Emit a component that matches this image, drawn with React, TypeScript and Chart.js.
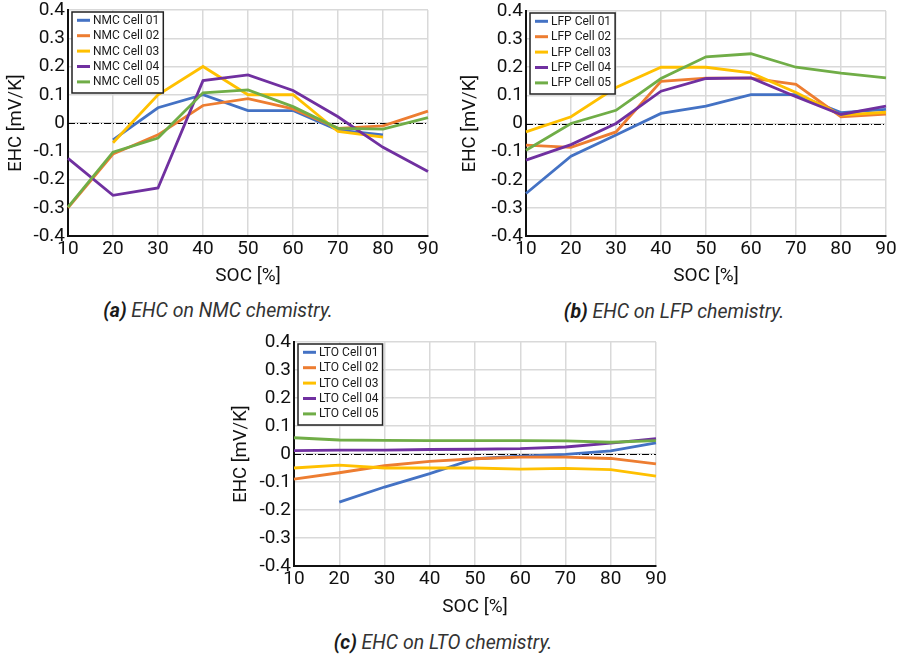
import React, { useEffect, useRef } from "react";
import { Chart, registerables } from "chart.js";

Chart.register(...registerables);

const socLabels = ["10", "20", "30", "40", "50", "60", "70", "80", "90"];
const cellColors = ["#4472C4", "#ED7D31", "#FFC000", "#7030A0", "#70AD47"];

const nmcNames = ["NMC Cell 01", "NMC Cell 02", "NMC Cell 03", "NMC Cell 04", "NMC Cell 05"];
const nmcCell01 = [null, -0.06, 0.054, 0.1, 0.044, 0.044, -0.025, -0.042, null];
const nmcCell02 = [-0.3, -0.11, -0.042, 0.062, 0.086, 0.05, -0.019, -0.01, 0.042];
const nmcCell03 = [null, -0.07, 0.1, 0.2, 0.1, 0.1, -0.03, -0.05, null];
const nmcCell04 = [-0.125, -0.256, -0.23, 0.15, 0.17, 0.115, 0.022, -0.086, -0.172];
const nmcCell05 = [-0.298, -0.103, -0.053, 0.107, 0.117, 0.058, -0.019, -0.022, 0.019];

const lfpNames = ["LFP Cell 01", "LFP Cell 02", "LFP Cell 03", "LFP Cell 04", "LFP Cell 05"];
const lfpCell01 = [-0.249, -0.116, -0.041, 0.036, 0.062, 0.103, 0.103, 0.039, 0.05];
const lfpCell02 = [-0.077, -0.085, -0.03, 0.15, 0.161, 0.161, 0.139, 0.024, 0.033];
const lfpCell03 = [-0.03, 0.024, 0.128, 0.2, 0.2, 0.18, 0.11, 0.03, 0.04];
const lfpCell04 = [-0.13, -0.075, 0.0, 0.115, 0.16, 0.162, 0.095, 0.032, 0.062];
const lfpCell05 = [-0.095, 0.0, 0.047, 0.16, 0.237, 0.248, 0.2, 0.179, 0.162];

const ltoNames = ["LTO Cell 01", "LTO Cell 02", "LTO Cell 03", "LTO Cell 04", "LTO Cell 05"];
const ltoCell01 = [null, -0.172, -0.118, -0.07, -0.017, -0.008, -0.001, 0.011, 0.04];
const ltoCell02 = [-0.09, -0.067, -0.042, -0.026, -0.017, -0.011, -0.011, -0.016, -0.035];
const ltoCell03 = [-0.05, -0.04, -0.05, -0.05, -0.05, -0.054, -0.051, -0.056, -0.079];
const ltoCell04 = [0.012, 0.014, 0.014, 0.016, 0.017, 0.019, 0.025, 0.039, 0.055];
const ltoCell05 = [0.058, 0.05, 0.049, 0.048, 0.048, 0.048, 0.047, 0.042, 0.048];

const yTicksMin = -0.4;
const yTicksMax = 0.4;
const yStep = 0.1;

const FONT = "Roboto, 'Noto Sans', sans-serif";

const legendBoxPlugin = {
  id: "legendBox",
  afterDatasetsDraw(chart: any) {
    const { ctx, chartArea } = chart;
    const ds = chart.data.datasets;
    const x0 = chartArea.left + 4;
    const y0 = chartArea.top + 2;
    const rowH = 15.4;
    ctx.save();
    ctx.font = `12px ${FONT}`;
    const textW = Math.max(...ds.map((d: any) => ctx.measureText(d.label).width));
    const w = 5 + 13 + 3 + textW + 4;
    const h = ds.length * rowH + 4;
    ctx.fillStyle = "#ffffff";
    ctx.fillRect(x0, y0, w, h);
    ctx.strokeStyle = "#222222";
    ctx.lineWidth = 1.5;
    ctx.strokeRect(x0, y0, w, h);
    ds.forEach((d: any, i: number) => {
      const cy = y0 + 8.3 + i * rowH;
      ctx.strokeStyle = d.borderColor;
      ctx.lineWidth = 3;
      ctx.beginPath();
      ctx.moveTo(x0 + 5, cy);
      ctx.lineTo(x0 + 18, cy);
      ctx.stroke();
      ctx.fillStyle = "#1a1a1a";
      ctx.textBaseline = "middle";
      ctx.textAlign = "left";
      ctx.fillText(d.label, x0 + 21, cy + 0.5);
    });
    ctx.restore();
  },
};

const zeroLinePlugin = {
  id: "zeroLine",
  beforeDatasetsDraw(chart: any) {
    const { ctx, chartArea, scales } = chart;
    const y = Math.round(scales.y.getPixelForValue(0)) + 0.5;
    ctx.save();
    ctx.strokeStyle = "#000000";
    ctx.lineWidth = 1;
    ctx.setLineDash([7, 2, 1, 2]);
    ctx.beginPath();
    ctx.moveTo(chartArea.left, y);
    ctx.lineTo(chartArea.right, y);
    ctx.stroke();
    ctx.restore();
  },
};

type PanelProps = {
  names: string[];
  series: (number | null)[][];
  left: number;
  top: number;
  width: number;
  height: number;
  yAxisWidth: number;
  padTop: number;
  padRight: number;
  yTitlePad: number;
  xTitlePad: number;
};

function Panel(p: PanelProps) {
  const ref = useRef<HTMLCanvasElement | null>(null);
  useEffect(() => {
    if (!ref.current) return;
    const chart = new Chart(ref.current, {
      type: "line",
      data: {
        labels: socLabels,
        datasets: p.series.map((s, i) => ({
          label: p.names[i],
          data: s,
          borderColor: cellColors[i],
          backgroundColor: cellColors[i],
          borderWidth: 2.8,
          pointRadius: 0,
          tension: 0,
          spanGaps: false,
          order: 10 - i,
        })),
      },
      options: {
        responsive: false,
        animation: false,
        layout: { padding: { left: 0, top: p.padTop, right: p.padRight, bottom: 0 } },
        plugins: { legend: { display: false }, tooltip: { enabled: false } },
        scales: {
          x: {
            type: "category",
            offset: false,
            grid: { color: "#d9d9d9", lineWidth: 1.5, drawTicks: false },
            border: { color: "#111111", width: 2 },
            ticks: { color: "#111111", font: { family: FONT, size: 19 }, padding: 2, maxRotation: 0, autoSkip: false },
            title: {
              display: true,
              text: "SOC [%]",
              color: "#111111",
              font: { family: FONT, size: 19 },
              padding: { top: 0, bottom: p.xTitlePad },
            },
            afterFit: (s: any) => {
              s.height = 60;
              s.paddingLeft = 0;
              s.paddingRight = 0;
            },
          },
          y: {
            min: yTicksMin,
            max: yTicksMax,
            grid: { color: "#d9d9d9", lineWidth: 1.5, drawTicks: false },
            border: { color: "#111111", width: 2 },
            ticks: {
              stepSize: yStep,
              color: "#111111",
              font: { family: FONT, size: 19 },
              padding: 3,
              callback: (v: any) => String(Math.round(Number(v) * 10) / 10),
            },
            title: {
              display: true,
              text: "EHC [mV/K]",
              color: "#111111",
              font: { family: FONT, size: 18.5 },
              padding: { top: p.yTitlePad, bottom: 0 },
            },
            afterFit: (s: any) => {
              s.width = p.yAxisWidth;
              s.paddingTop = 0;
              s.paddingBottom = 0;
            },
          },
        },
      },
      plugins: [zeroLinePlugin, legendBoxPlugin],
    });
    return () => chart.destroy();
  }, []);
  return (
    <canvas
      ref={ref}
      width={p.width}
      height={p.height}
      style={{ position: "absolute", left: p.left, top: p.top, width: p.width, height: p.height, display: "block" }}
    />
  );
}

function Caption({ letter, text, cx, cy }: { letter: string; text: string; cx: number; cy: number }) {
  return (
    <div
      style={{
        position: "absolute",
        left: cx - 200,
        width: 400,
        top: cy - 12,
        height: 24,
        lineHeight: "24px",
        textAlign: "center",
        fontFamily: FONT,
        fontStyle: "italic",
        fontSize: 19.5,
        color: "#333333",
        whiteSpace: "nowrap",
      }}
    >
      <span style={{ fontWeight: 700, color: "#1a1a1a" }}>({letter})</span> {text}
    </div>
  );
}

export default function App() {
  return (
    <div style={{ position: "absolute", left: 0, top: 0, width: 897, height: 660, background: "#ffffff", overflow: "hidden" }}>
      <Panel
        names={nmcNames}
        series={[nmcCell01, nmcCell02, nmcCell03, nmcCell04, nmcCell05]}
        left={0}
        top={0}
        width={450}
        height={296}
        yAxisWidth={68}
        padTop={10}
        padRight={22}
        yTitlePad={5}
        xTitlePad={8}
      />
      <Panel
        names={lfpNames}
        series={[lfpCell01, lfpCell02, lfpCell03, lfpCell04, lfpCell05]}
        left={450}
        top={0}
        width={447}
        height={296}
        yAxisWidth={76}
        padTop={11}
        padRight={11}
        yTitlePad={9}
        xTitlePad={8}
      />
      <Panel
        names={ltoNames}
        series={[ltoCell01, ltoCell02, ltoCell03, ltoCell04, ltoCell05]}
        left={220}
        top={330}
        width={450}
        height={296}
        yAxisWidth={74}
        padTop={12}
        padRight={14}
        yTitlePad={10}
        xTitlePad={7}
      />
      <Caption letter="a" text="EHC on NMC chemistry." cx={218} cy={311} />
      <Caption letter="b" text="EHC on LFP chemistry." cx={674} cy={312} />
      <Caption letter="c" text="EHC on LTO chemistry." cx={443} cy={643} />
    </div>
  );
}
